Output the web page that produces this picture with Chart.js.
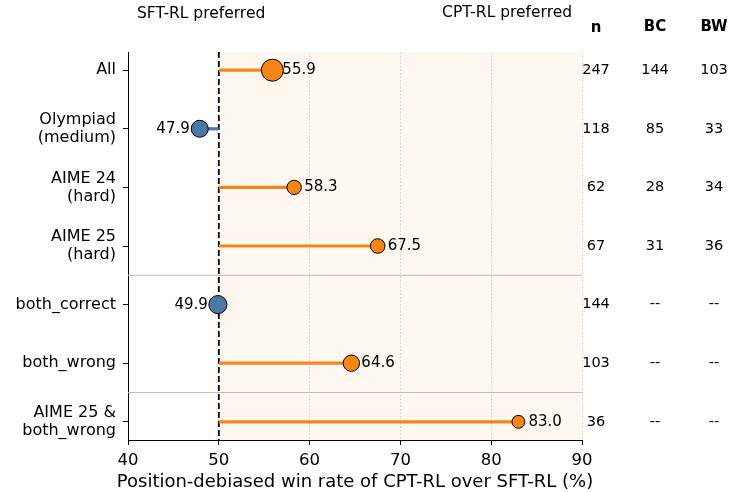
<!DOCTYPE html>
<html>
<head>
<meta charset="utf-8">
<script src="https://cdn.jsdelivr.net/npm/chart.js@4"></script>
<style>
  html, body { margin: 0; padding: 0; background: #fff; }
  #wrap { width: 746px; height: 492px; }
</style>
</head>
<body>
<div id="wrap"><canvas id="myChart" width="746" height="492"></canvas></div>
<script>
// data
const categories = ['All', 'Olympiad\n(medium)', 'AIME 24\n(hard)', 'AIME 25\n(hard)', 'both_correct', 'both_wrong', 'AIME 25 &\nboth_wrong'];
const winRates = [55.9, 47.9, 58.3, 67.5, 49.9, 64.6, 83.0];
const nValues = [247, 118, 62, 67, 144, 103, 36];
const bcValues = ['144', '85', '28', '31', '--', '--', '--'];
const bwValues = ['103', '33', '34', '36', '--', '--', '--'];
const xTicks = [40, 50, 60, 70, 80, 90];
const groupBreaks = [3.5, 5.5];

const ORANGE = '#f58518';
const BLUE = '#4c78a8';
const FONT = "'DejaVu Sans', sans-serif";

function colorFor(v) { return v >= 50 ? ORANGE : BLUE; }
function radiusFor(n) { return Math.sqrt(34 + 0.4 * n) - 0.5; }

const datasets = [];

// markers
datasets.push({
  type: 'scatter',
  data: winRates.map((v, i) => ({ x: v, y: i })),
  pointRadius: nValues.map(radiusFor),
  pointBackgroundColor: winRates.map(colorFor),
  pointBorderColor: '#000',
  pointBorderWidth: 1,
  order: 0
});

// stems from 50
winRates.forEach((v, i) => {
  datasets.push({
    type: 'line',
    data: [{ x: 50, y: i }, { x: v, y: i }],
    borderColor: colorFor(v),
    borderWidth: 3.2,
    pointRadius: 0,
    order: 1
  });
});

// reference line at 50
datasets.push({
  type: 'line',
  data: [{ x: 50, y: -0.31 }, { x: 50, y: 6.31 }],
  borderColor: '#000',
  borderWidth: 1.8,
  borderDash: [6, 3],
  pointRadius: 0,
  order: 2
});

// group separators
groupBreaks.forEach(b => {
  datasets.push({
    type: 'line',
    data: [{ x: 40, y: b }, { x: 90, y: b }],
    borderColor: '#bdbdbd',
    borderWidth: 1,
    pointRadius: 0,
    order: 3
  });
});

const shadePlugin = {
  id: 'shade',
  beforeDraw(chart) {
    const { ctx, chartArea, scales } = chart;
    const x0 = scales.x.getPixelForValue(50);
    const x1 = scales.x.getPixelForValue(90);
    ctx.save();
    ctx.fillStyle = 'rgba(245,133,24,0.06)';
    ctx.fillRect(x0, chartArea.top, x1 - x0, chartArea.bottom - chartArea.top);
    ctx.restore();
  }
};

const textPlugin = {
  id: 'texts',
  afterDatasetsDraw(chart) {
    const { ctx, chartArea, scales } = chart;
    ctx.save();
    ctx.fillStyle = '#000';
    ctx.textBaseline = 'middle';

    // value labels
    ctx.font = '15px ' + FONT;
    winRates.forEach((v, i) => {
      const px = scales.x.getPixelForValue(v);
      const py = scales.y.getPixelForValue(i);
      if (v >= 50) {
        ctx.textAlign = 'left';
        ctx.fillText(v.toFixed(1), px + 10, py);
      } else {
        ctx.textAlign = 'right';
        ctx.fillText(v.toFixed(1), px - 10, py);
      }
    });

    // table columns
    const cols = [chartArea.right + 14, chartArea.right + 73, chartArea.right + 132];
    ctx.font = '14.5px ' + FONT;
    ctx.textAlign = 'center';
    nValues.forEach((n, i) => {
      const py = scales.y.getPixelForValue(i);
      ctx.fillText(String(n), cols[0], py);
      ctx.fillText(bcValues[i], cols[1], py);
      ctx.fillText(bwValues[i], cols[2], py);
    });
    ctx.font = 'bold 15px ' + FONT;
    ctx.fillText('n', cols[0], chartArea.top - 24);
    ctx.fillText('BC', cols[1], chartArea.top - 25);
    ctx.fillText('BW', cols[2], chartArea.top - 25);

    // side headers
    ctx.font = '15.5px ' + FONT;
    const w = chartArea.right - chartArea.left;
    ctx.fillText('SFT-RL preferred', chartArea.left + 0.161 * w, chartArea.top - 38);
    ctx.fillText('CPT-RL preferred', chartArea.left + 0.835 * w, chartArea.top - 39);

    // x axis title (drawn here so it is not squeezed to the axis width)
    ctx.font = '18px ' + FONT;
    ctx.fillText('Position-debiased win rate of CPT-RL over SFT-RL (%)', (chartArea.left + chartArea.right) / 2, chartArea.bottom + 42);
    ctx.restore();
  }
};

new Chart(document.getElementById('myChart'), {
  type: 'scatter',
  data: { datasets: datasets },
  options: {
    responsive: false,
    animation: false,
    layout: { padding: { top: 52, right: 164, left: 0, bottom: 0 } },
    plugins: { legend: { display: false }, tooltip: { enabled: false } },
    scales: {
      x: {
        type: 'linear',
        min: 40,
        max: 90,
        afterBuildTicks: s => { s.ticks = xTicks.map(v => ({ value: v })); },
        afterFit: s => { s.height = 52; },
        ticks: { color: '#000', font: { family: FONT, size: 16.5 }, padding: 6 },
        grid: {
          color: ctx => (ctx.tick && ctx.tick.value > 50) ? '#cfcfcf' : 'rgba(0,0,0,0)',
          lineWidth: 1,
          drawTicks: true,
          tickLength: 5,
          tickColor: '#000',
          tickBorderDash: []
        },
        border: { display: true, color: '#000', width: 1, dash: [1.5, 2] }
      },
      y: {
        type: 'linear',
        reverse: true,
        min: -0.31,
        max: 6.31,
        afterBuildTicks: s => { s.ticks = categories.map((c, i) => ({ value: i })); },
        afterFit: s => { s.width = 128; },
        ticks: {
          color: '#000',
          font: { family: FONT, size: 16, lineHeight: 1.12 },
          padding: 7,
          callback: v => {
            const c = categories[Math.round(v)];
            return c ? c.split('\n') : '';
          }
        },
        grid: { drawOnChartArea: false, drawTicks: true, tickLength: 5, tickColor: '#000' },
        border: { display: true, color: '#000', width: 1 }
      }
    }
  },
  plugins: [shadePlugin, textPlugin]
});
</script>
</body>
</html>
